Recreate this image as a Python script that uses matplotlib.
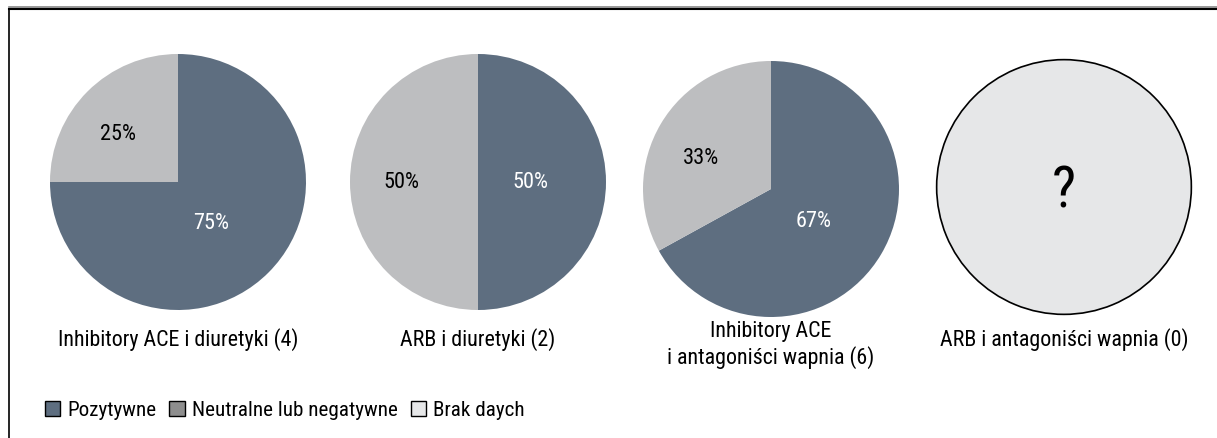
import numpy as np
import matplotlib.pyplot as plt
from matplotlib.patches import Patch
from matplotlib.lines import Line2D

# dane
captions = ['Inhibitory ACE i diuretyki (4)', 'ARB i diuretyki (2)',
            'Inhibitory ACE\ni antagoniści wapnia (6)', 'ARB i antagoniści wapnia (0)']
positive = [75, 50, 67, 0]
neutral = [25, 50, 33, 0]
legend_labels = ['Pozytywne', 'Neutralne lub negatywne', 'Brak daych']

c_pos = '#5e6e80'
c_neu = '#bdbec0'
c_none = '#e6e7e8'
c_leg_neu = '#8e8e8e'

plt.rcParams['font.family'] = ['Roboto Condensed', 'DejaVu Sans']

W, H = 1217, 439
fig = plt.figure(figsize=(W / 100, H / 100), dpi=100)

# ramka: góra i lewa
fig.add_artist(Line2D([9 / W, 1], [1 - 8 / H, 1 - 8 / H], color='#888888', lw=1.2))
fig.add_artist(Line2D([9 / W, 1], [1 - 9.5 / H, 1 - 9.5 / H], color='black', lw=1.5))
fig.add_artist(Line2D([9 / W, 9 / W], [0, 1 - 9.5 / H], color='black', lw=1.2))

centers = [(178, 183), (478, 183), (771, 190), (1064, 188)]
radius = 128
caption_y = [340, 340, 345, 340]


def pie_axes(cx, cy, r):
    ax = fig.add_axes([(cx - r) / W, (H - cy - r) / H, 2 * r / W, 2 * r / H])
    return ax


for i, (cx, cy) in enumerate(centers):
    ax = pie_axes(cx, cy, radius)
    total = positive[i] + neutral[i]
    if total == 0:
        ax.pie([1], colors=[c_none], radius=0.995,
               wedgeprops=dict(edgecolor='black', linewidth=1.2))
        ax.text(0, -0.03, '?', ha='center', va='center', fontsize=41)
    else:
        wedges, _ = ax.pie([positive[i], neutral[i]], colors=[c_pos, c_neu],
                           startangle=90, counterclock=False, radius=1)
        # etykiety: ciemne bliżej środka, jasne dalej
        for w, val, col, d, rot in zip(wedges, [positive[i], neutral[i]],
                                       ['white', 'black'], [0.41, 0.6], [-6, 6]):
            ang = np.deg2rad((w.theta1 + w.theta2) / 2 + (rot if val != 50 else 0))
            ax.text(d * np.cos(ang), d * np.sin(ang), f'{val}%',
                    ha='center', va='center', fontsize=16, color=col)
    ax.set_xlim(-1, 1)
    ax.set_ylim(-1, 1)
    ax.set_aspect('equal')
    ax.axis('off')
    fig.text(cx / W, 1 - caption_y[i] / H, captions[i], ha='center', va='center',
             fontsize=15.8, linespacing=1.2)

handles = [Patch(facecolor=c, edgecolor='black', linewidth=1)
           for c in [c_pos, c_leg_neu, c_none]]
fig.legend(handles, legend_labels, loc='center left', bbox_to_anchor=(26 / W, 1 - 411 / H),
           ncol=3, frameon=False, fontsize=15.2, handlelength=0.72, handleheight=0.72,
           handletextpad=0.35, columnspacing=0.6)

fig.savefig('out.png', dpi=100)
